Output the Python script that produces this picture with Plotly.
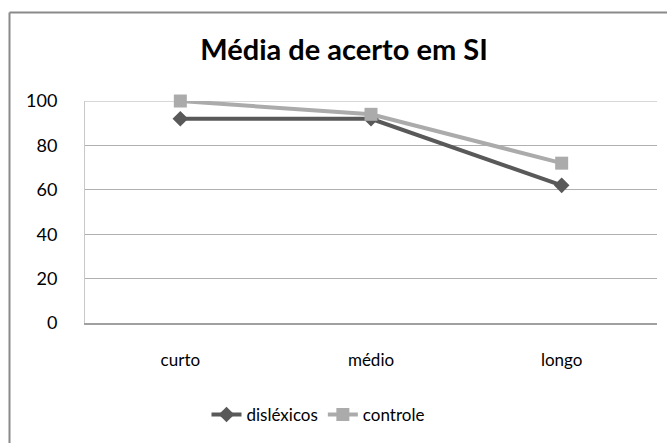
import plotly.graph_objects as go

categories = ["curto", "médio", "longo"]
dislexicos = [92, 92, 62]
controle = [100, 94, 72]
y_ticks = [0, 20, 40, 60, 80, 100]

W, H = 667, 443
L, R, T, B = 85, 10, 101, 120
pw = W - L - R
ph = H - T - B

def px_x(x):
    return (x - L) / pw

def px_y(y):
    return (H - B - y) / ph

font_family = "Lato, 'Open Sans', sans-serif"

fig = go.Figure()
fig.add_trace(go.Scatter(
    x=categories, y=dislexicos, name="disléxicos", mode="lines+markers",
    line=dict(color="#595959", width=4),
    marker=dict(symbol="diamond", size=12, color="#595959"),
    cliponaxis=False,
))
fig.add_trace(go.Scatter(
    x=categories, y=controle, name="controle", mode="lines+markers",
    line=dict(color="#ababab", width=4),
    marker=dict(symbol="square", size=13, color="#ababab"),
    cliponaxis=False,
))

fig.update_layout(
    width=W, height=H,
    margin=dict(l=L, r=R, t=T, b=B, pad=0),
    paper_bgcolor="white", plot_bgcolor="white",
    font=dict(family=font_family, color="black"),
    title=dict(text="<b>Média de acerto em SI</b>", x=344 / W, xanchor="center",
               y=1 - 50 / H, yanchor="middle",
               font=dict(size=29, family=font_family, color="black")),
    showlegend=True,
    legend=dict(orientation="h", x=px_x(318), xanchor="center",
                y=px_y(415), yanchor="middle",
                font=dict(size=17, family=font_family, color="black"),
                bgcolor="rgba(0,0,0,0)", itemwidth=30),
    shapes=[
        dict(type="line", xref="paper", yref="paper",
             x0=px_x(9.5), x1=px_x(9.5), y0=px_y(12.5), y1=px_y(450),
             line=dict(color="#8a8a8a", width=2)),
        dict(type="line", xref="paper", yref="paper",
             x0=px_x(9.5), x1=px_x(680), y0=px_y(12.5), y1=px_y(12.5),
             line=dict(color="#8a8a8a", width=2)),
        dict(type="line", xref="paper", yref="y", layer="below",
             x0=0, x1=1, y0=y_ticks[-1], y1=y_ticks[-1],
             line=dict(color="#b0b0b0", width=1)),
    ],
)
fig.update_xaxes(
    type="category", range=[-0.5, 2.5], showgrid=False, showline=True,
    linecolor="#a0a0a0", linewidth=2, ticks="",
    tickfont=dict(size=17, family=font_family, color="black"),
    ticklabelstandoff=21,
)
fig.update_yaxes(
    range=[0, 100], tickvals=y_ticks, showgrid=True, gridcolor="#b0b0b0",
    gridwidth=1, zeroline=False, showline=True, linecolor="#c8c8c8",
    linewidth=1, ticks="",
    tickfont=dict(size=18, family=font_family, color="black"),
    ticklabelstandoff=23,
)

fig.write_html("out.html", config={"displayModeBar": False},
               post_script="document.body.style.margin='0';")
